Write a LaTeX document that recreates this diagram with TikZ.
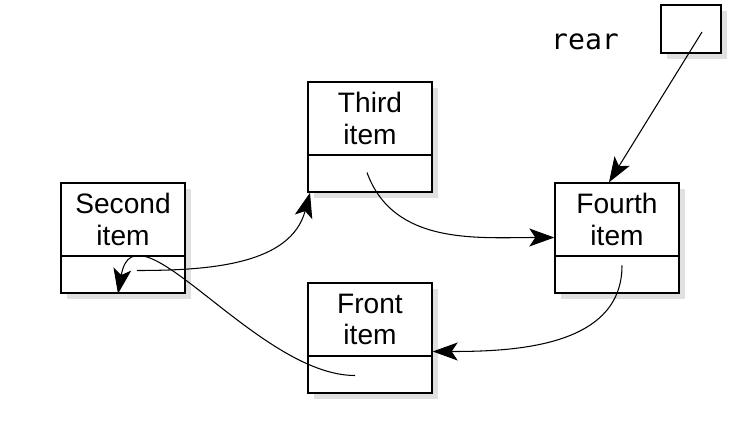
\documentclass[tikz,border=0pt]{standalone}
\usepackage{fontspec}
\setmainfont{Liberation Sans}
\setmonofont{DejaVu Sans Mono}
\usetikzlibrary{arrows.meta,positioning,shadows}
\tikzset{>={Stealth[length=0.5cm,width=0.36cm,inset=0.12cm]}}
\tikzset{
  itembox/.style={draw,thick,fill=white,minimum width=2.48cm,minimum height=1.46cm,
    inner sep=0pt,align=center,font=\fontsize{16}{18}\selectfont,
    drop shadow={shadow xshift=0.12cm,shadow yshift=-0.12cm,fill=black!12,opacity=1}},
  linkbox/.style={draw,thick,fill=white,minimum width=2.48cm,minimum height=0.74cm,inner sep=0pt,
    drop shadow={shadow xshift=0.12cm,shadow yshift=-0.12cm,fill=black!12,opacity=1}},
  link/.style={->,semithick}
}
\begin{document}
\begin{tikzpicture}[x=0.02cm,y=-0.02cm]
\useasboundingbox (0,0) rectangle (750,424);
% the four queue cells
\node[itembox] (second) at (123,219.5) {Second\\item};
\node[linkbox,below=-0.8pt of second] (secondp) {};
\node[itembox] (third) at (370,118.5) {Third\\item};
\node[linkbox,below=-0.8pt of third] (thirdp) {};
\node[itembox] (fourth) at (617,219.5) {Fourth\\item};
\node[linkbox,below=-0.8pt of fourth] (fourthp) {};
\node[itembox] (front) at (370,319.5) {Front\\item};
\node[linkbox,below=-0.8pt of front] (frontp) {};
% rear pointer
\node[linkbox,minimum width=1.2cm,minimum height=0.96cm] (rearp) at (691,29) {};
\node[font=\ttfamily\fontsize{16}{18}\selectfont] (rear) at (585,42) {rear};
% links
\coordinate (s2) at ([xshift=0.28cm,yshift=0.08cm]secondp.center);
\coordinate (s3) at ([xshift=-0.06cm,yshift=0.02cm]thirdp.center);
\coordinate (s4) at ([xshift=0.1cm,yshift=0.18cm]fourthp.center);
\coordinate (sf) at ([xshift=-0.3cm,yshift=-0.02cm]frontp.center);
\coordinate (sr) at ([xshift=0.22cm,yshift=-0.06cm]rearp.center);
\draw[link] (s2) to[out=0,in=-105] ([xshift=-1.2cm]thirdp.south);
\draw[link] (s3) to[out=-70,in=180] ([yshift=-0.36cm]fourth.west);
\draw[link] (s4) to[out=-90,in=0] ([yshift=-0.64cm]front.east);
\draw[link] (sf) to[out=180,in=80] ([xshift=-0.1cm]secondp.south);
\draw[link] (sr) -- ([xshift=-0.16cm]fourth.north);
\end{tikzpicture}
\end{document}
